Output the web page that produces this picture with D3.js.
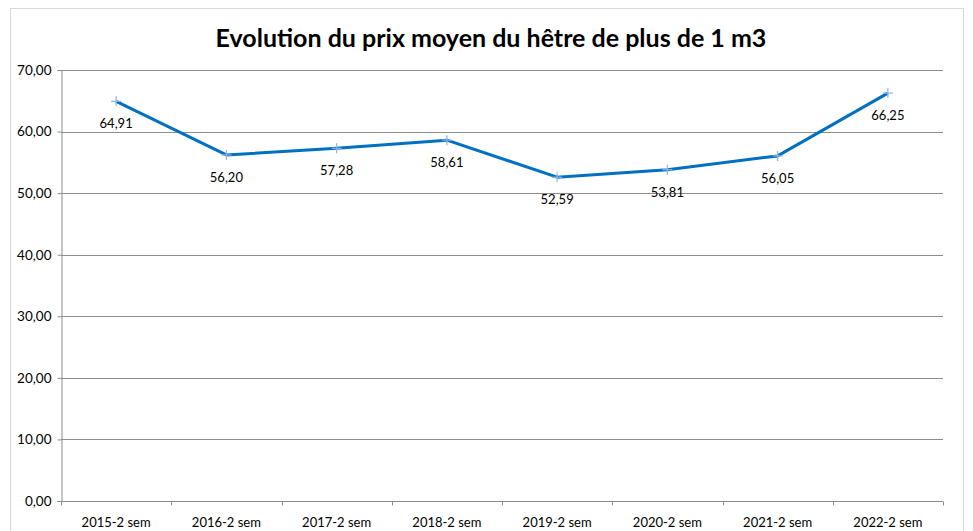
<!DOCTYPE html>
<html>
<head>
<meta charset="utf-8">
<script src="https://cdn.jsdelivr.net/npm/d3@7"></script>
<style>
  body { margin: 0; background: #fff; }
  svg { display: block; font-family: Lato, "Open Sans", sans-serif; }
</style>
</head>
<body>
<div id="chart"></div>
<script>
// chart data
const categories = ["2015-2 sem", "2016-2 sem", "2017-2 sem", "2018-2 sem",
                    "2019-2 sem", "2020-2 sem", "2021-2 sem", "2022-2 sem"];
const prices = [64.91, 56.20, 57.28, 58.61, 52.59, 53.81, 56.05, 66.25];
const yTicks = [0, 10, 20, 30, 40, 50, 60, 70];

const width = 973;
const height = 531;
const margin = {left: 61, right: 30, top: 70, bottom: 30};

const svg = d3.select("#chart")
  .append("svg")
  .attr("width", width)
  .attr("height", height);

// outer chart border
svg.append("rect")
  .attr("x", 10.5).attr("y", 8.5)
  .attr("width", 953).attr("height", 540)
  .attr("fill", "none")
  .attr("stroke", "#d9d9d9");

const x = d3.scaleBand()
  .domain(categories)
  .range([margin.left, 943]);

const y = d3.scaleLinear()
  .domain([0, 70])
  .range([501, margin.top]);

const fmt = v => d3.format(".2f")(v).replace(".", ",");

// gridlines
svg.append("g")
  .selectAll("line")
  .data(yTicks.slice(1))
  .enter()
  .append("line")
  .attr("x1", margin.left).attr("x2", 943)
  .attr("y1", d => Math.round(y(d)) + 0.5)
  .attr("y2", d => Math.round(y(d)) + 0.5)
  .attr("stroke", "#8c8c8c");

// y axis
const yAxis = svg.append("g")
  .attr("transform", `translate(${margin.left + 0.5},0)`)
  .call(d3.axisLeft(y).tickValues(yTicks).tickFormat(fmt).tickSize(4).tickPadding(6));
yAxis.select(".domain").attr("stroke", "#8c8c8c");
yAxis.selectAll(".tick line").attr("stroke", "#8c8c8c");
yAxis.selectAll("text").attr("font-size", "13.5px").attr("fill", "#000")
  .attr("font-family", "Lato, sans-serif");

// x axis (ticks at band edges)
const xAxis = svg.append("g")
  .attr("transform", `translate(0,${Math.round(y(0)) + 0.5})`);
xAxis.append("line")
  .attr("x1", margin.left).attr("x2", 943)
  .attr("stroke", "#8c8c8c");
xAxis.selectAll(".edge")
  .data(d3.range(categories.length + 1))
  .enter()
  .append("line")
  .attr("class", "edge")
  .attr("x1", i => Math.round(margin.left + i * x.step()) + 0.5)
  .attr("x2", i => Math.round(margin.left + i * x.step()) + 0.5)
  .attr("y1", 0).attr("y2", 4)
  .attr("stroke", "#8c8c8c");
xAxis.selectAll(".lbl")
  .data(categories)
  .enter()
  .append("text")
  .attr("class", "lbl")
  .attr("x", d => x(d) + x.bandwidth() / 2)
  .attr("y", 25)
  .attr("text-anchor", "middle")
  .attr("font-size", "13px")
  .text(d => d);

// line
const line = d3.line()
  .x((d, i) => x(categories[i]) + x.bandwidth() / 2)
  .y(d => y(d));

svg.append("path")
  .datum(prices)
  .attr("d", line)
  .attr("fill", "none")
  .attr("stroke", "#0070c0")
  .attr("stroke-width", 3)
  .attr("stroke-linejoin", "round");

// "+" markers
const marks = svg.append("g")
  .selectAll("g")
  .data(prices)
  .enter()
  .append("g")
  .attr("transform", (d, i) => `translate(${x(categories[i]) + x.bandwidth() / 2},${y(d)})`);
marks.append("line").attr("x1", -5).attr("x2", 5).attr("stroke", "#8fb4e3").attr("stroke-width", 1.2);
marks.append("line").attr("y1", -5).attr("y2", 5).attr("stroke", "#8fb4e3").attr("stroke-width", 1.2);

// value labels
svg.append("g")
  .selectAll("text")
  .data(prices)
  .enter()
  .append("text")
  .attr("x", (d, i) => x(categories[i]) + x.bandwidth() / 2)
  .attr("y", d => y(d) + 27)
  .attr("text-anchor", "middle")
  .attr("font-size", "13px")
  .text(fmt);

// title
svg.append("text")
  .attr("x", 491)
  .attr("y", 47)
  .attr("text-anchor", "middle")
  .attr("font-size", "25px")
  .attr("font-weight", "bold")
  .text("Evolution du prix moyen du hêtre de plus de 1 m3");
</script>
</body>
</html>
